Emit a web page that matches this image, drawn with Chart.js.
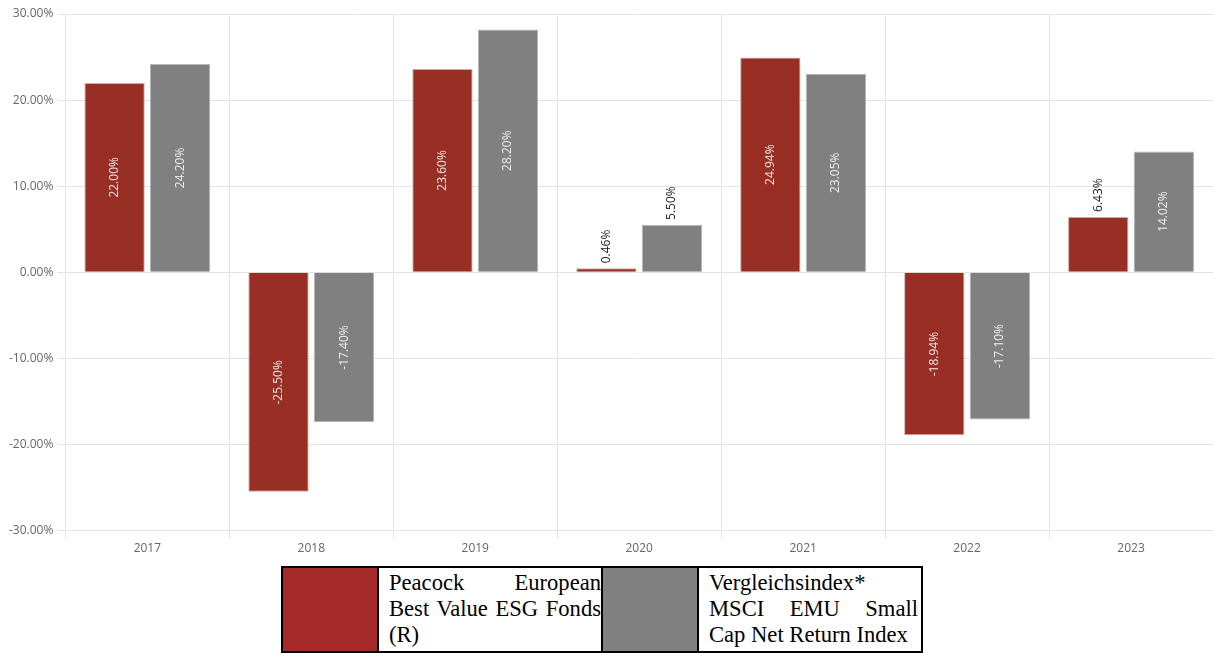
<!DOCTYPE html>
<html>
<head>
<meta charset="utf-8">
<script src="https://cdn.jsdelivr.net/npm/chart.js@4.4.1/dist/chart.umd.min.js"></script>
<style>
  body { margin: 0; background: #fff; }
  #wrap { position: relative; width: 1213px; height: 559px; }
  table.legend {
    position: absolute; left: 281px; top: 566px;
    border-collapse: collapse; font-family: "Liberation Serif", serif;
    font-size: 22.6px; line-height: 26px; color: #000;
  }
  table.legend td { border: 2px solid #000; padding: 0; vertical-align: top; }
  td.sw { width: 94px; }
  td.txt { padding: 2px 0 3px 10px !important; text-align: justify; }
  td.t1 { width: 212px; }
  td.t2 { width: 209px; padding-right: 3px !important; }
</style>
</head>
<body>
<div id="wrap"><canvas id="myChart"></canvas></div>
<table class="legend">
  <tr>
    <td class="sw" style="background:#a52a2a"></td>
    <td class="txt t1">Peacock European Best Value ESG Fonds (R)</td>
    <td class="sw" style="background:#808080"></td>
    <td class="txt t2">Vergleichsindex* MSCI EMU Small Cap Net Return Index</td>
  </tr>
</table>
<script>
const years = ["2017", "2018", "2019", "2020", "2021", "2022", "2023"];
const fondValues = [22.00, -25.50, 23.60, 0.46, 24.94, -18.94, 6.43];
const indexValues = [24.20, -17.40, 28.20, 5.50, 23.05, -17.10, 14.02];
const yTicks = [-30, -20, -10, 0, 10, 20, 30];

const ctx = document.getElementById("myChart");

// labels rotated inside the bars, or above them when the bar is too short
const barLabels = {
  id: "barLabels",
  afterDatasetsDraw(chart) {
    const c = chart.ctx;
    c.save();
    c.font = "12px 'Open Sans'";
    chart.data.datasets.forEach((ds, i) => {
      chart.getDatasetMeta(i).data.forEach((bar, j) => {
        const txt = ds.data[j].toFixed(2) + "%";
        const h = Math.abs(bar.base - bar.y);
        c.save();
        c.translate(bar.x, 0);
        c.rotate(-Math.PI / 2);
        c.textBaseline = "middle";
        if (h > 65) {
          c.fillStyle = "#eeeeee";
          c.textAlign = "center";
          c.fillText(txt, -(bar.y + bar.base) / 2, 0);
        } else {
          c.fillStyle = "#222";
          c.textAlign = "left";
          c.fillText(txt, -(bar.y - 5), 0);
        }
        c.restore();
      });
    });
    c.restore();
  },
};

const myChart = new Chart(ctx, {
  type: "bar",
  data: {
    labels: years,
    datasets: [
      {
        label: "Peacock European Best Value ESG Fonds (R)",
        data: fondValues,
        backgroundColor: "#992e24",
        borderColor: "#c9aaa5",
        borderWidth: 1,
        categoryPercentage: 0.8,
        barPercentage: 0.92,
      },
      {
        label: "Vergleichsindex* MSCI EMU Small Cap Net Return Index",
        data: indexValues,
        backgroundColor: "#808080",
        borderColor: "#b5b5b5",
        borderWidth: 1,
        categoryPercentage: 0.8,
        barPercentage: 0.92,
      },
    ],
  },
  options: {
    responsive: true,
    maintainAspectRatio: false,
    animation: false,
    layout: { padding: { top: 14, left: 5, right: 0, bottom: 0 } },
    plugins: { legend: { display: false }, tooltip: { enabled: false } },
    scales: {
      x: {
        grid: { color: "#e4e4e4", offset: true, tickLength: 8 },
        border: { color: "#e4e4e4" },
        ticks: { color: "#666", font: { family: "Open Sans", size: 12 }, padding: 3 },
      },
      y: {
        min: -30,
        max: 30,
        afterBuildTicks: (axis) => { axis.ticks = yTicks.map((v) => ({ value: v })); },
        grid: { color: "#e4e4e4", tickLength: 8 },
        border: { color: "#e4e4e4" },
        ticks: {
          color: "#666",
          font: { family: "Open Sans", size: 12 },
          padding: 4,
          callback: (v) => v.toFixed(2) + "%",
        },
      },
    },
  },
  plugins: [barLabels],
});
</script>
</body>
</html>
